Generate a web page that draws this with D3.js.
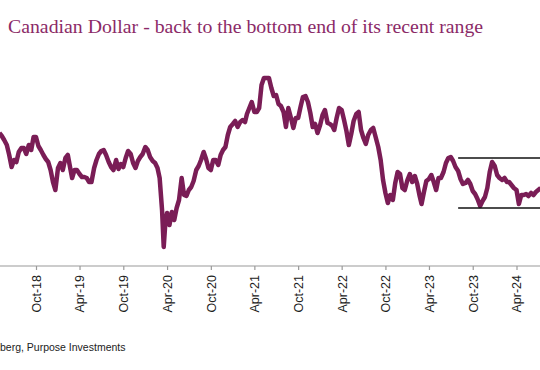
<!DOCTYPE html>
<html>
<head>
<meta charset="utf-8">
<script src="https://cdn.jsdelivr.net/npm/d3@7"></script>
<style>
body { margin: 0; background: #fff; }
.axis text { font-family: "Liberation Sans", Arial, sans-serif; font-size: 12.5px; fill: #222; }
.axis line { stroke: #9a9a9a; stroke-width: 1.2; }
</style>
</head>
<body>
<div id="chart"></div>
<script>
var width = 540,
    height = 370;

var title = 'Canadian Dollar - back to the bottom end of its recent range';
var source = 'Source: Bloomberg, Purpose Investments';

var tickLabels = ['Oct-18', 'Apr-19', 'Oct-19', 'Apr-20', 'Oct-20', 'Apr-21',
                  'Oct-21', 'Apr-22', 'Oct-22', 'Apr-23', 'Oct-23', 'Apr-24'];

// CAD/USD (3 fixings a month)
var dates = [
  '2018-05-01','2018-05-11','2018-05-21','2018-06-01','2018-06-11','2018-06-21',
  '2018-07-01','2018-07-11','2018-07-21','2018-08-01','2018-08-11','2018-08-21',
  '2018-09-01','2018-09-11','2018-09-21','2018-10-01','2018-10-11','2018-10-21',
  '2018-11-01','2018-11-11','2018-11-21','2018-12-01','2018-12-11','2018-12-21',
  '2019-01-01','2019-01-11','2019-01-21','2019-02-01','2019-02-11','2019-02-21',
  '2019-03-01','2019-03-11','2019-03-21','2019-04-01','2019-04-11','2019-04-21',
  '2019-05-01','2019-05-11','2019-05-21','2019-06-01','2019-06-11','2019-06-21',
  '2019-07-01','2019-07-11','2019-07-21','2019-08-01','2019-08-11','2019-08-21',
  '2019-09-01','2019-09-11','2019-09-21','2019-10-01','2019-10-11','2019-10-21',
  '2019-11-01','2019-11-11','2019-11-21','2019-12-01','2019-12-11','2019-12-21',
  '2020-01-01','2020-01-11','2020-01-21','2020-02-01','2020-02-11','2020-02-21',
  '2020-03-01','2020-03-11','2020-03-18','2020-03-25',
  '2020-04-01','2020-04-11','2020-04-21','2020-05-01','2020-05-11','2020-05-21',
  '2020-06-01','2020-06-11','2020-06-21','2020-07-01','2020-07-11','2020-07-21',
  '2020-08-01','2020-08-11','2020-08-21','2020-09-01','2020-09-11','2020-09-21',
  '2020-10-01','2020-10-11','2020-10-21','2020-11-01','2020-11-11','2020-11-21',
  '2020-12-01','2020-12-11','2020-12-21',
  '2021-01-01','2021-01-11','2021-01-21','2021-02-01','2021-02-11','2021-02-21',
  '2021-03-01','2021-03-11','2021-03-21','2021-04-01','2021-04-11','2021-04-21',
  '2021-05-01','2021-05-11','2021-05-21','2021-06-01','2021-06-11','2021-06-21',
  '2021-07-01','2021-07-11','2021-07-21','2021-08-01','2021-08-11','2021-08-21',
  '2021-09-01','2021-09-11','2021-09-21','2021-10-01','2021-10-11','2021-10-21',
  '2021-11-01','2021-11-11','2021-11-21','2021-12-01','2021-12-11','2021-12-21',
  '2022-01-01','2022-01-11','2022-01-21','2022-02-01','2022-02-11','2022-02-21',
  '2022-03-01','2022-03-11','2022-03-21','2022-04-01','2022-04-11','2022-04-21',
  '2022-05-01','2022-05-11','2022-05-21','2022-06-01','2022-06-11','2022-06-21',
  '2022-07-01','2022-07-11','2022-07-21','2022-08-01','2022-08-11','2022-08-21',
  '2022-09-01','2022-09-11','2022-09-21','2022-10-01','2022-10-11','2022-10-21',
  '2022-11-01','2022-11-11','2022-11-21','2022-12-01','2022-12-11','2022-12-21',
  '2023-01-01','2023-01-11','2023-01-21','2023-02-01','2023-02-11','2023-02-21',
  '2023-03-01','2023-03-11','2023-03-21','2023-04-01','2023-04-11','2023-04-21',
  '2023-05-01','2023-05-11','2023-05-21','2023-06-01','2023-06-11','2023-06-21',
  '2023-07-01','2023-07-11','2023-07-21','2023-08-01','2023-08-11','2023-08-21',
  '2023-09-01','2023-09-11','2023-09-21','2023-10-01','2023-10-11','2023-10-21',
  '2023-11-01','2023-11-11','2023-11-21','2023-12-01','2023-12-11','2023-12-21',
  '2024-01-01','2024-01-11','2024-01-21','2024-02-01','2024-02-11','2024-02-21',
  '2024-03-01','2024-03-11','2024-03-21','2024-04-01','2024-04-11','2024-04-21',
  '2024-05-01','2024-05-11','2024-05-21','2024-06-01','2024-06-11','2024-06-21',
  '2024-07-01','2024-07-11'
];

var cadusd = [
  0.7852, 0.7828, 0.7796, 0.7756, 0.7676, 0.7580,
  0.7636, 0.7620, 0.7700, 0.7732, 0.7732, 0.7684,
  0.7756, 0.7716, 0.7820, 0.7820, 0.7748, 0.7716,
  0.7676, 0.7644, 0.7620, 0.7556, 0.7460, 0.7396,
  0.7572, 0.7612, 0.7556, 0.7652, 0.7676, 0.7572,
  0.7492, 0.7556, 0.7556, 0.7524, 0.7500, 0.7500,
  0.7492, 0.7460, 0.7460, 0.7572, 0.7636, 0.7684,
  0.7708, 0.7716, 0.7676, 0.7620, 0.7580, 0.7556,
  0.7636, 0.7564, 0.7604, 0.7580, 0.7652, 0.7708,
  0.7684, 0.7612, 0.7572, 0.7628, 0.7660, 0.7684,
  0.7740, 0.7716, 0.7660, 0.7628, 0.7612, 0.7572,
  0.7492, 0.7236, 0.6940, 0.7140,
  0.7212, 0.7116, 0.7220, 0.7156, 0.7252, 0.7316,
  0.7492, 0.7356, 0.7348, 0.7396, 0.7420, 0.7468,
  0.7556, 0.7588, 0.7636, 0.7700, 0.7644, 0.7572,
  0.7556, 0.7636, 0.7636, 0.7596, 0.7676, 0.7716,
  0.7740, 0.7836, 0.7900,
  0.7924, 0.7948, 0.7900, 0.7940, 0.7956, 0.7940,
  0.8004, 0.8052, 0.8100, 0.8020, 0.8020, 0.8052,
  0.8236, 0.8292, 0.8292, 0.8292, 0.8212, 0.8148,
  0.8156, 0.8084, 0.8068, 0.8020, 0.7900, 0.8052,
  0.7972, 0.7892, 0.7972, 0.7972, 0.8060, 0.8140,
  0.8148, 0.8100, 0.8012, 0.7900, 0.7924, 0.7852,
  0.7916, 0.7996, 0.8036, 0.7932, 0.7924, 0.7908,
  0.7876, 0.7972, 0.8052, 0.8036, 0.7956, 0.7868,
  0.7756, 0.7844, 0.7948, 0.8004, 0.8020, 0.7876,
  0.7812, 0.7764, 0.7836, 0.7876, 0.7892, 0.7820,
  0.7740, 0.7636, 0.7476, 0.7372, 0.7292, 0.7356,
  0.7316, 0.7452, 0.7540, 0.7524, 0.7412, 0.7396,
  0.7476, 0.7524, 0.7460, 0.7508, 0.7444, 0.7348,
  0.7284, 0.7380, 0.7468, 0.7484, 0.7516, 0.7460,
  0.7396, 0.7492, 0.7492, 0.7540, 0.7612, 0.7652,
  0.7660, 0.7628, 0.7580, 0.7548, 0.7484, 0.7444,
  0.7452, 0.7476, 0.7444, 0.7388, 0.7364, 0.7324,
  0.7268, 0.7308, 0.7340, 0.7412, 0.7540, 0.7620,
  0.7588, 0.7516, 0.7492, 0.7476, 0.7492, 0.7460,
  0.7460, 0.7436, 0.7412, 0.7396, 0.7284, 0.7356,
  0.7356, 0.7364, 0.7348, 0.7372, 0.7356, 0.7380,
  0.7396, 0.7412
];

// recent trading range drawn as a box
var rangeStart = '2023-08-01';
var rangeHigh = 0.7652,
    rangeLow = 0.7252;

var parseDay = d3.timeParse('%Y-%m-%d');
var parseTick = d3.timeParse('%b-%y');

var svg = d3.select('#chart')
    .append('svg')
    .attr('width', width)
    .attr('height', height);

var x = d3.scaleTime()
    .domain([parseDay('2018-10-01'), parseDay('2024-04-01')])
    .range([36, 516.5]);

var y = d3.scaleLinear()
    .domain([0.69, 0.83])
    .range([252, 77]);

var axisY = 266;

svg.append('text')
    .attr('x', 8)
    .attr('y', 33)
    .attr('font-family', '"Liberation Serif", Georgia, serif')
    .attr('font-size', 19.8)
    .attr('fill', '#8b2a67')
    .text(title);

var series = dates.map((d, i) => ({ date: parseDay(d), value: cadusd[i] }));

var line = d3.line()
    .x(d => x(d.date))
    .y(d => y(d.value));

svg.append('path')
    .datum(series)
    .attr('fill', 'none')
    .attr('stroke', '#7a1d56')
    .attr('stroke-width', 4.5)
    .attr('stroke-linejoin', 'round')
    .attr('d', line);

// range lines
[rangeHigh, rangeLow].forEach(v => {
    svg.append('line')
        .attr('x1', x(parseDay(rangeStart)))
        .attr('x2', width)
        .attr('y1', y(v))
        .attr('y2', y(v))
        .attr('stroke', '#111')
        .attr('stroke-width', 1.5);
});

var xAxis = d3.axisBottom(x)
    .tickValues(tickLabels.map(parseTick))
    .tickFormat(d3.timeFormat('%b-%y'))
    .tickSize(4)
    .tickSizeOuter(0);

var gx = svg.append('g')
    .attr('class', 'axis')
    .attr('transform', 'translate(0,' + axisY + ')')
    .call(xAxis);

gx.select('.domain').remove();

gx.append('line')
    .attr('x1', 0)
    .attr('x2', width)
    .attr('stroke', '#9a9a9a')
    .attr('stroke-width', 1.5);

gx.selectAll('.tick text')
    .attr('transform', 'rotate(-90)')
    .attr('x', -9)
    .attr('y', 0)
    .attr('dy', '0.35em')
    .style('text-anchor', 'end');

// source note, its start runs off the left edge as in the original crop
var note = svg.append('text')
    .attr('y', 351)
    .attr('font-family', '"Liberation Sans", Arial, sans-serif')
    .attr('font-size', 10.5)
    .attr('fill', '#222')
    .text(source);

var cut = note.node().getSubStringLength(0, source.indexOf('berg'));
note.attr('x', -cut);
</script>
</body>
</html>
